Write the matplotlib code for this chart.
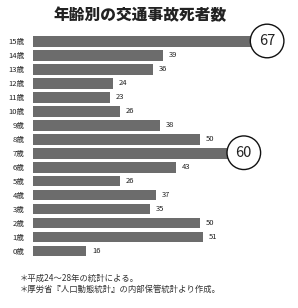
import matplotlib
matplotlib.use("Agg")
import matplotlib.pyplot as plt
from matplotlib.patches import Circle
import matplotlib.transforms as mtransforms

plt.rcParams['font.family'] = ['Noto Sans CJK JP', 'DejaVu Sans']

ages = ["0歳", "1歳", "2歳", "3歳", "4歳", "5歳", "6歳", "7歳", "8歳", "9歳",
        "10歳", "11歳", "12歳", "13歳", "14歳", "15歳"]
deaths = [16, 51, 50, 35, 37, 26, 43, 60, 50, 38, 26, 23, 24, 36, 39, 67]
highlight = ["7歳", "15歳"]
title = "年齢別の交通事故死者数"
notes = ["＊平成24～28年の統計による。",
         "＊厚労省『人口動態統計』の内部保管統計より作成。"]

W, H = 298, 308
fig = plt.figure(figsize=(W / 100, H / 100), dpi=100)
left_px, right_px = 33, 298
top_px, bot_px = 34.5, 258
ax = fig.add_axes([left_px / W, 1 - bot_px / H, (right_px - left_px) / W, (bot_px - top_px) / H])

y = list(range(len(ages)))
ax.barh(y, deaths, height=0.76, color="#6c6c6c", edgecolor="none")
ax.set_xlim(0, (right_px - left_px) / 3.33)
ax.set_ylim(-0.5, len(ages) - 0.5)
ax.set_yticks(y)
ax.set_yticklabels(ages, fontsize=5.5, color="#222222")
ax.tick_params(axis="y", length=0, pad=6)
ax.set_xticks([])
for s in ax.spines.values():
    s.set_visible(False)

for yi, (a, v) in enumerate(zip(ages, deaths)):
    if a in highlight:
        trans = fig.dpi_scale_trans + mtransforms.ScaledTranslation(v, yi, ax.transData)
        off = 0.11
        circ = Circle((off, 0.005), 0.168, transform=trans, facecolor="white",
                      edgecolor="#111111", linewidth=1.0, clip_on=False)
        ax.add_patch(circ)
        ax.text(off, 0.0, str(v), transform=trans, fontsize=10.5, ha="center",
                va="center", color="#222222")
    else:
        ax.annotate(str(v), (v, yi), xytext=(6, 0), textcoords="offset pixels",
                    fontsize=5.5, va="center", ha="left", color="#222222")

fig.text(140 / W, 1 - 15 / H, title, fontsize=11.3, fontweight="heavy", ha="center",
         va="center", color="#222222")
for i, n in enumerate(notes):
    fig.text(20 / W, 1 - (278 + 11 * i) / H, n, fontsize=6.0, ha="left",
             va="center", color="#333333")

fig.savefig("out.png", dpi=100)
